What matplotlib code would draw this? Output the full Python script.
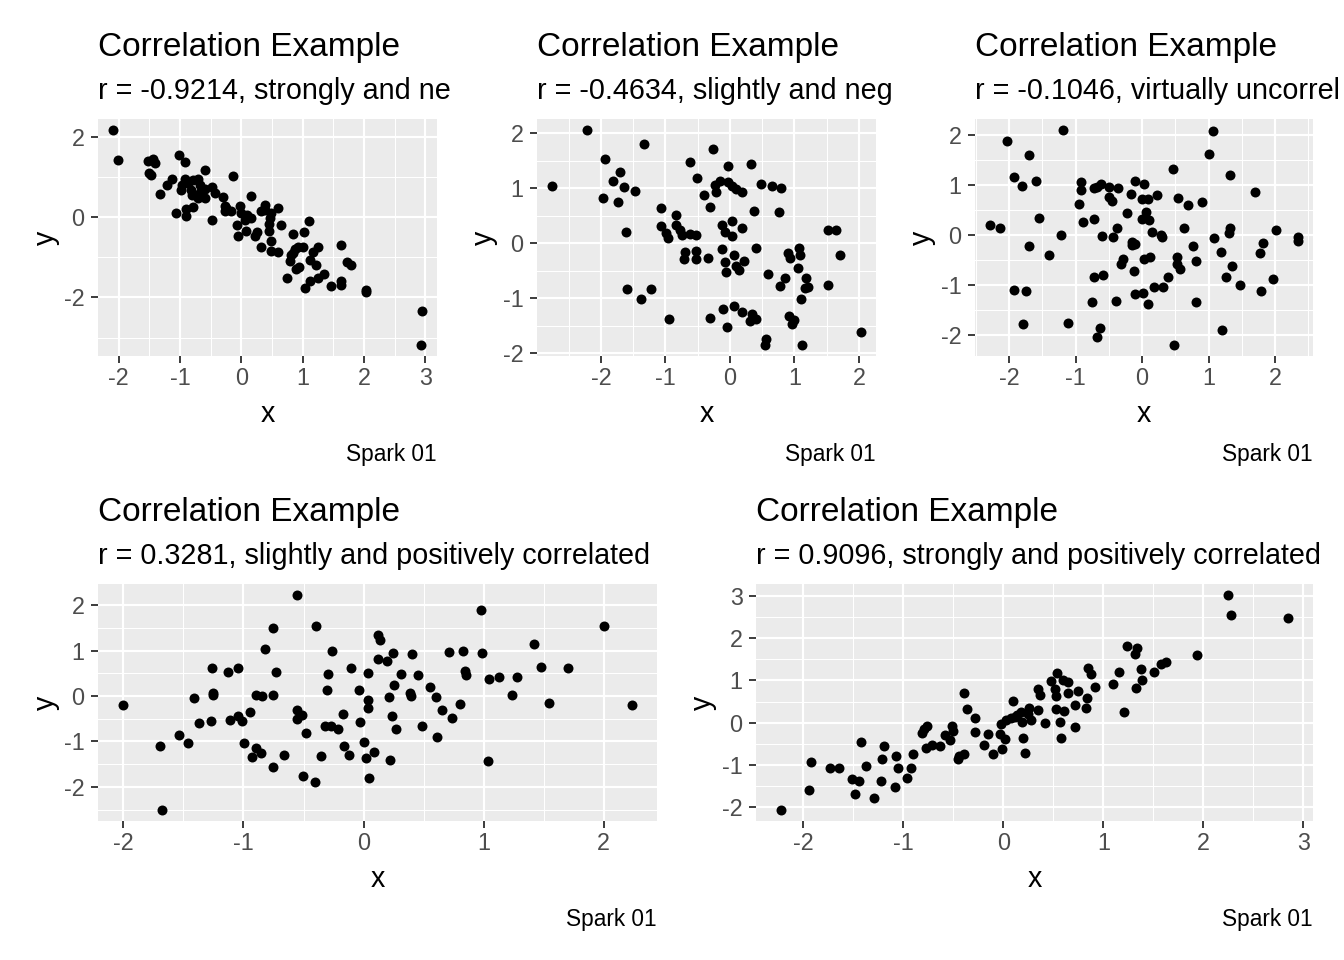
import matplotlib
matplotlib.use('Agg')
import matplotlib.pyplot as plt
from matplotlib.ticker import MultipleLocator

plt.rcParams['font.family'] = ['Liberation Sans', 'DejaVu Sans']
plt.rcParams['axes.unicode_minus'] = False

# ---------------- data ----------------
title_text = "Correlation Example"
subtitles = [
    "r = -0.9214, strongly and ne",
    "r = -0.4634, slightly and neg",
    "r = -0.1046, virtually uncorrel",
    "r = 0.3281, slightly and positively correlated",
    "r = 0.9096, strongly and positively correlated",
]
caption_text = "Spark 01"

p1_x = [-2.086, -2.015, -1.525, -1.443, -1.400, -1.498, -1.47, -1.024, -0.926, -0.599, -0.131, -1.133,
        -1.215, -1.318, -0.915, -0.969, -0.991, -0.871, -0.790, -0.708, -0.828, -0.763, -0.654, -0.599,
        -0.708, -0.474, -0.436, -0.300, -0.272, -0.272, -0.174, -1.062, -0.899, -0.899, -0.790, -0.485,
        -0.027, 0.0, 0.098, 0.163, 0.153, -0.065, -0.054, 0.071, 0.218, 0.261, 0.327, 0.392, 0.490,
        0.599, 0.463, 0.447, 0.447, 0.654, 0.479, 0.327, 0.479, 0.599, 0.844, 1.024, 1.100, 0.871,
        0.926, 1.008, 0.817, 0.790, 0.899, 0.943, 1.117, 1.171, 1.253, 1.215, 0.752, 1.035, 1.127,
        1.253, 1.351, 1.460, 1.623, 1.732, 1.786, 1.623, 1.634, 2.032, 2.042, 2.941, 2.930, 0.844,
        0.381, 0.054, -0.68, -0.80, -0.60, -0.25]
p1_y = [2.175, 1.433, 1.408, 1.458, 1.35, 1.10, 1.058, 1.558, 1.367, 1.183, 1.033, 0.958,
        0.792, 0.575, 0.958, 0.808, 0.667, 0.85, 0.933, 0.958, 0.683, 0.558, 0.642, 0.475,
        0.475, 0.75, 0.6, 0.5, 0.267, 0.142, 0.158, 0.108, 0.017, 0.208, 0.242, -0.067,
        0.267, 0.1, 0.058, -0.025, 0.533, -0.208, -0.483, -0.358, -0.483, -0.383, 0.142, 0.308, 0.1,
        0.225, -0.025, -0.175, -0.342, -0.192, -0.592, -0.733, -0.842, -0.875, -0.417, -0.375, -0.108, -0.792,
        -0.733, -0.733, -0.942, -1.092, -1.292, -1.233, -1.067, -0.858, -0.75, -1.192, -1.525, -1.775, -1.583,
        -1.525, -1.417, -1.717, -0.692, -1.108, -1.192, -1.592, -1.692, -1.817, -1.858, -2.342, -3.192, -0.9,
        0.183, -0.067, 0.81, 0.56, 0.70, 0.22]

p2_x = [-2.211, -2.75, -1.328, -1.932, -1.710, -1.808, -1.637, -1.467, -1.963, -1.730, -1.064, -0.842,
        -1.617, -1.074, -0.997, -0.956, -0.842, -0.780, -0.739, -0.625, -0.532, -0.702, -0.718, -0.532,
        -0.522, -0.336, -0.620, -0.269, -0.026, 0.320, -0.506, -0.238, -0.155, -0.026, 0.036, 0.088,
        0.191, -0.222, -0.408, -0.305, 0.475, 0.656, 0.785, 0.367, 0.754, 0.026, -0.129, -0.077,
        0.026, 0.181, -0.129, 0.057, -0.083, -0.067, 0.088, 0.140, 0.217, 0.398, 0.594, 0.852,
        0.770, 0.899, 0.925, 1.074, 1.085, 1.059, 1.173, 1.162, 1.214, 1.095, 1.524, 1.637,
        1.705, 1.524, -1.591, -1.229, -1.384, -0.940, -0.305, -0.103, 0.067, 0.191, 0.336, 0.305,
        0.408, -0.041, 0.914, 0.992, 0.956, 0.553, 0.542, 1.121, 2.025]
p2_y = [2.061, 1.042, 1.806, 1.527, 1.297, 1.133, 1.024, 0.952, 0.824, 0.752, 0.648, 0.509,
        0.212, 0.321, 0.182, 0.103, 0.333, 0.242, 0.152, 0.164, 0.152, -0.152, -0.285, -0.139,
        -0.285, -0.261, 1.479, 1.709, 1.406, 1.442, 1.182, 1.061, 1.133, 1.103, 1.030, 0.988,
        0.927, 0.939, 0.873, 0.661, 1.079, 1.042, 1.006, 0.588, 0.570, 0.406, 0.333, 0.212,
        0.133, 0.279, -0.103, -0.224, -0.345, -0.521, -0.424, -0.485, -0.333, -0.085, -0.558, -0.636,
        -0.770, -0.182, -0.261, -0.085, -0.224, -0.455, -0.636, -0.806, -0.788, -1.018, 0.242, 0.242,
        -0.212, -0.758, -0.830, -0.830, -1.012, -1.376, -1.358, -1.194, -1.139, -1.255, -1.291, -1.412,
        -1.376, -1.521, -1.315, -1.394, -1.473, -1.733, -1.848, -1.855, -1.612]

p3_x = [-1.187, -2.033, -1.708, -1.923, -1.813, -1.592, -1.557, -2.283, -2.143, -1.708, -1.407, -1.217,
        -1.933, -1.743, -1.793, -1.122, -0.916, -0.926, -0.946, -0.891, -0.721, -0.731, -0.676, -0.616,
        -0.501, -0.356, -0.501, -0.451, -0.601, -0.436, -0.376, -0.235, -0.165, -0.105, 0.035, 0.0,
        0.085, 0.225, 0.060, 0.0, 0.100, 0.150, 0.285, 0.295, -0.145, -0.100, -0.145, 0.471,
        0.546, 0.686, 0.906, 0.631, 1.067, 1.007, 1.317, 1.698, 1.077, 1.317, 1.312, 2.008,
        2.339, 2.339, 1.818, 1.773, 1.187, 0.766, 0.811, 1.347, 1.267, 1.472, 1.973, 1.788,
        0.526, 0.526, 0.576, 0.396, 0.320, 0.175, 0.035, 0.115, -0.290, -0.315, -0.120, -0.731,
        -0.596, -0.105, 0.010, 0.085, -0.756, -0.391, 0.811, -0.636, -0.676, 0.476, 1.197]
p3_y = [2.114, 1.880, 1.599, 1.177, 0.990, 1.084, 0.355, 0.214, 0.154, -0.207, -0.388, 0.013,
        -1.097, -1.110, -1.773, -1.753, 1.064, 0.916, 0.635, 0.268, 0.334, 0.950, 0.970, 1.030,
        0.977, 0.943, 0.763, 0.682, -0.007, -0.033, 0.154, 0.441, 0.829, 1.084, 1.037, 0.736,
        0.729, 0.809, 0.462, 0.334, 0.308, 0.067, 0.013, -0.040, -0.140, -0.174, -0.201, 1.338,
        0.756, 0.615, 0.676, 0.154, 2.094, 1.625, 1.211, 0.876, -0.047, 0.147, 0.047, 0.114,
        -0.027, -0.107, -0.154, -0.348, -0.334, -0.207, -0.508, -0.609, -0.836, -0.990, -0.876, -1.110,
        -0.428, -0.569, -0.676, -0.836, -1.037, -1.037, -0.468, -0.428, -0.468, -0.575, -0.709, -0.829,
        -0.796, -1.177, -1.150, -1.371, -1.331, -1.311, -1.331, -1.846, -2.033, -2.201, -1.893]

p4_x = [-2.000, -1.693, -1.675, -1.538, -1.463, -1.371, -1.410, -1.267, -1.261, -1.252, -1.252, -1.133,
        -1.049, -1.112, -1.046, -1.016, -0.948, -0.999, -0.897, -0.927, -0.855, -0.751, -0.659, -0.894,
        -0.846, -0.757, -0.730, -0.817, -0.751, -0.554, -0.399, -0.259, -0.295, -0.304, -0.551, -0.510,
        -0.557, -0.483, -0.507, -0.408, -0.358, -0.319, -0.268, -0.212, -0.173, -0.164, -0.122, -0.107,
        -0.036, 0.039, 0.039, 0.039, -0.030, 0.003, 0.018, 0.086, 0.045, 0.119, 0.137, 0.116,
        0.194, 0.244, 0.310, 0.250, 0.215, 0.235, 0.271, 0.221, 0.402, 0.456, 0.387, 0.393,
        0.483, 0.554, 0.602, 0.653, 0.611, 0.736, 0.799, 0.712, 0.826, 0.846, 0.849, 0.987,
        0.978, 1.046, 1.124, 1.040, 1.237, 1.279, 1.419, 1.478, 1.547, 1.705, 2.003, 2.232]
p4_y = [-0.199, -1.103, -2.515, -0.860, -1.044, -0.603, -0.044, -0.551, 0.625, 0.066, 0.015, 0.529,
        0.618, -0.522, -0.449, -0.551, -0.353, -1.037, -1.147, -1.346, -1.250, -1.566, -1.301, 0.022,
        0.007, 0.022, 0.522, 1.029, 1.500, 2.228, 1.544, 0.993, 0.478, 0.132, -0.301, -0.412,
        -0.515, -0.816, -1.765, -1.897, -1.324, -0.662, -0.662, -0.728, -0.397, -1.110, -1.301, 0.618,
        0.132, 0.507, -0.081, -0.265, -0.566, -1.022, -1.368, -1.235, -1.809, 1.353, 1.228, 0.816,
        0.772, 0.949, 0.493, 0.235, -0.022, -0.449, -0.728, -1.412, 0.934, 0.463, 0.066, -0.007,
        -0.662, 0.199, -0.022, -0.301, -0.904, -0.485, -0.184, 0.971, 0.993, 0.551, 0.456, 0.949,
        1.897, 0.375, 0.419, -1.441, 0.015, 0.412, 1.147, 0.640, -0.154, 0.618, 1.544, -0.199]

p5_x = [-2.221, -1.947, -1.929, -1.733, -1.648, -1.512, -1.448, -1.488, -1.292, -1.377, -1.420, -1.221,
        -1.210, -1.192, -1.082, -1.057, -1.078, -0.961, -0.922, -0.900, -0.811, -0.790, -0.769, -0.772,
        -0.719, -0.630, -0.584, -0.534, -0.512, -0.502, -0.459, -0.441, -0.399, -0.395, -0.363, -0.281,
        -0.281, -0.196, -0.153, -0.107, -0.036, -0.025, 0.011, -0.014, 0.028, 0.071, 0.096, 0.117,
        0.171, 0.189, 0.196, 0.217, 0.260, 0.278, 0.349, 0.345, 0.367, 0.416, 0.473, 0.537,
        0.512, 0.527, 0.598, 0.644, 0.644, 0.527, 0.605, 0.562, 0.573, 0.715, 0.715, 0.751,
        0.836, 0.826, 0.847, 0.875, 0.918, 1.100, 1.160, 1.203, 1.235, 1.338, 1.320, 1.381,
        1.391, 1.331, 1.509, 1.577, 1.630, 1.932, 2.249, 2.278, 2.843, 0.25, 0.135]
p5_y = [-2.071, -1.597, -0.933, -1.075, -1.075, -1.336, -1.383, -1.692, -1.771, -1.028, -0.466, -1.368,
        -0.870, -0.553, -1.526, -1.075, -0.791, -1.320, -1.075, -0.743, -0.245, -0.142, -0.071, -0.609,
        -0.522, -0.553, -0.292, -0.403, -0.087, -0.206, -0.854, -0.791, -0.735, 0.704, 0.332, 0.111,
        -0.221, -0.522, -0.269, -0.735, -0.261, -0.024, -0.379, -0.625, 0.055, 0.119, 0.514, 0.134,
        0.253, 0.016, -0.356, -0.711, 0.348, 0.055, 0.308, 0.791, 0.648, -0.016, 0.980, 1.170,
        0.806, 0.625, 1.004, 0.964, 0.704, 0.332, 0.277, 0.016, -0.364, -0.103, 0.411, 0.743,
        0.593, 0.356, 1.296, 1.162, 0.838, 0.909, 1.202, 0.253, 1.818, 1.771, 1.621, 1.265,
        1.012, 0.822, 1.194, 1.383, 1.439, 1.605, 3.028, 2.553, 2.482, 0.20, 0.18]

xs = [p1_x, p2_x, p3_x, p4_x, p5_x]
ys = [p1_y, p2_y, p3_y, p4_y, p5_y]
y_major_step = [2, 1, 1, 1, 1]

# ---------------- layout (pixels from top-left) ----------------
W, H = 1344, 960
boxes = [(98, 119, 437, 356), (537, 119, 876, 356), (975, 119, 1313, 356),
         (98, 584, 657, 821), (756, 584, 1313, 821)]
ylab_x = [46, 484, 922, 46, 703]

fig = plt.figure(figsize=(14, 10), dpi=96)

def fx(px):
    return px / W

def fy(py):
    return 1 - py / H

for i in range(5):
    x0, t, x1, b = boxes[i]
    ax = fig.add_axes([fx(x0), fy(b), (x1 - x0) / W, (b - t) / H])
    ax.set_facecolor('#EBEBEB')
    for s in ax.spines.values():
        s.set_visible(False)
    ax.scatter(xs[i], ys[i], s=56, c='black', linewidths=0, zorder=3)
    ax.margins(0.05)
    ax.xaxis.set_major_locator(MultipleLocator(1))
    ax.xaxis.set_minor_locator(MultipleLocator(0.5))
    ax.yaxis.set_major_locator(MultipleLocator(y_major_step[i]))
    ax.yaxis.set_minor_locator(MultipleLocator(y_major_step[i] / 2))
    ax.grid(which='major', color='white', linewidth=1.6)
    ax.grid(which='minor', color='white', linewidth=0.8)
    ax.set_axisbelow(True)
    ax.tick_params(which='major', length=5.5, width=1.4, color='#333333',
                   labelsize=17.5, labelcolor='#4D4D4D')
    ax.tick_params(axis='x', which='major', pad=2.5)
    ax.tick_params(axis='y', which='major', pad=4.5)
    ax.tick_params(which='minor', length=0)

    row_off = 0 if i < 3 else 465
    # title / subtitle
    fig.text(fx(x0), fy(55.7 + row_off), title_text, fontsize=25, color='black',
             ha='left', va='baseline')
    fig.text(fx(x0), fy(99 + row_off), subtitles[i], fontsize=21.6, color='black',
             ha='left', va='baseline')
    # axis titles
    fig.text(fx((x0 + x1) / 2), fy(421.7 + row_off), 'x', fontsize=21.5, color='black',
             ha='center', va='baseline')
    fig.text(fx(ylab_x[i]), fy((t + b) / 2), 'y', fontsize=21.5, color='black',
             ha='center', va='center', rotation=90)
    # caption
    fig.text(fx(x1), fy(460.7 + row_off), caption_text, fontsize=17, color='black',
             ha='right', va='baseline')

fig.savefig('out.png', dpi=96, facecolor='white')
